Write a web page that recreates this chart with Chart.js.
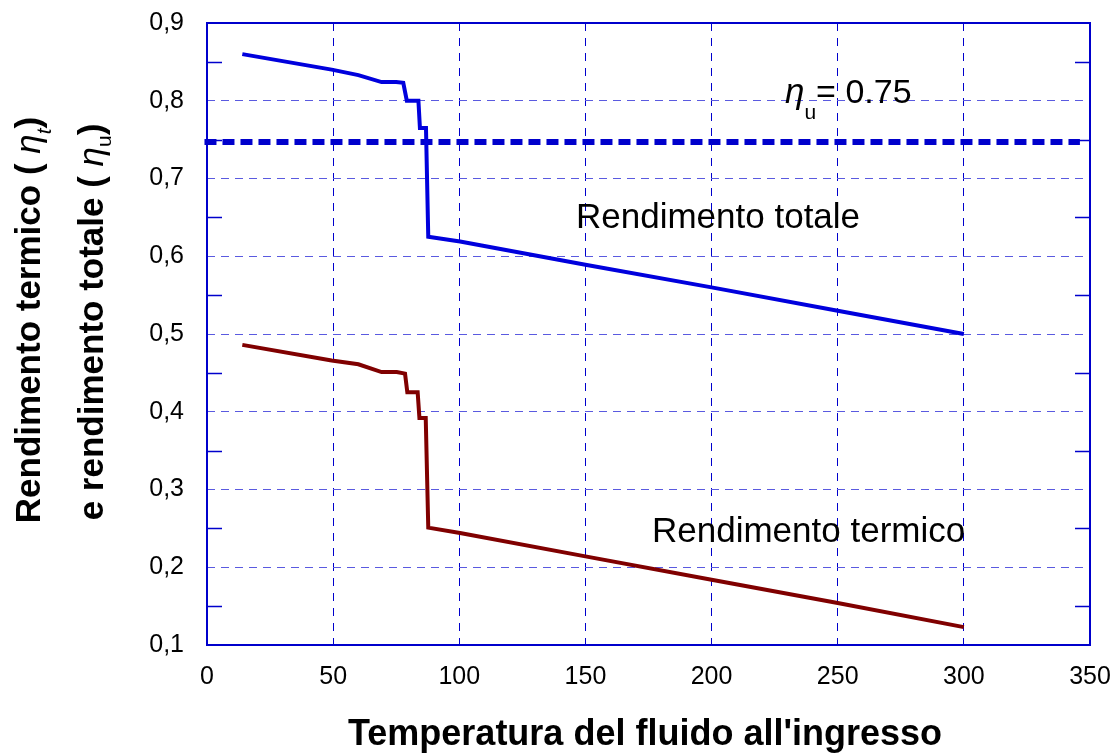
<!DOCTYPE html>
<html>
<head>
<meta charset="utf-8">
<script src="https://cdn.jsdelivr.net/npm/chart.js@4.4.1/dist/chart.umd.min.js"></script>
<style>
  html, body { margin: 0; padding: 0; background: #fff; }
  #wrap { width: 1110px; height: 754px; }
</style>
</head>
<body>
<div id="wrap"><canvas id="myChart" width="1110" height="754"></canvas></div>
<script>
// temperature of the fluid at the inlet (x) and efficiencies
const tempTotale = [14, 49.4, 60, 69.2, 75, 77.8, 79.2, 83.8, 84.4, 86.8, 87.7, 100.3, 150, 200, 250, 300];
const rendTotale = [0.860, 0.840, 0.833, 0.824, 0.824, 0.823, 0.800, 0.800, 0.765, 0.765, 0.625, 0.619, 0.589, 0.560, 0.530, 0.500];

const tempTermico = [14, 49.4, 60, 69.2, 75.2, 78.5, 79.4, 83.5, 84.2, 86.7, 87.7, 100.3, 150, 200, 250, 300];
const rendTermico = [0.486, 0.466, 0.461, 0.451, 0.451, 0.449, 0.425, 0.425, 0.392, 0.392, 0.251, 0.244, 0.214, 0.184, 0.154, 0.123];

const tempRiferimento = [-1, 346];
const rendRiferimento = [0.747, 0.747];

const xTicks = [0, 50, 100, 150, 200, 250, 300, 350];
const yTicks = [0.1, 0.2, 0.3, 0.4, 0.5, 0.6, 0.7, 0.8, 0.9];

const FONT = '"Liberation Sans", Arial, sans-serif';
Chart.defaults.font.family = FONT;

function toPoints(xs, ys) {
  return xs.map((x, i) => ({ x: x, y: ys[i] }));
}

// draw a row of text pieces (for the subscripts)
function drawRuns(ctx, runs, x, y, align) {
  let total = 0;
  runs.forEach(r => { ctx.font = r.f; total += ctx.measureText(r.t).width; });
  let cx = align === 'center' ? x - total / 2 : x;
  runs.forEach(r => {
    ctx.font = r.f;
    ctx.fillText(r.t, cx, y + (r.dy || 0));
    cx += ctx.measureText(r.t).width;
  });
}

const decorations = {
  id: 'decorations',
  afterDraw(chart) {
    const ctx = chart.ctx;
    const a = chart.chartArea;
    const ys = chart.scales.y;

    ctx.save();
    // frame
    ctx.strokeStyle = '#0000cc';
    ctx.lineWidth = 2;
    ctx.strokeRect(a.left, a.top, a.right - a.left, a.bottom - a.top);

    // minor ticks on left and right
    ctx.lineWidth = 1.5;
    for (let v = 0.15; v < 0.9; v += 0.1) {
      const py = Math.round(ys.getPixelForValue(v)) + 0.5;
      ctx.beginPath();
      ctx.moveTo(a.left, py); ctx.lineTo(a.left + 15, py);
      ctx.moveTo(a.right, py); ctx.lineTo(a.right - 15, py);
      ctx.stroke();
    }

    ctx.fillStyle = '#000';
    ctx.textBaseline = 'alphabetic';
    ctx.textAlign = 'left';

    ctx.font = '35px ' + FONT;
    ctx.fillText('Rendimento totale', 576, 228);
    ctx.fillText('Rendimento termico', 652, 542);

    drawRuns(ctx, [
      { t: '\u03b7', f: 'italic 35px ' + FONT },
      { t: 'u', f: '21px ' + FONT, dy: 16 },
      { t: '= 0.75', f: '34px ' + FONT }
    ], 785, 103, 'left');

    // x axis title
    ctx.font = 'bold 36px ' + FONT;
    ctx.textAlign = 'center';
    ctx.fillText("Temperatura del fluido all'ingresso", 645, 745);
    ctx.textAlign = 'left';

    // y axis title, two rotated lines
    ctx.save();
    ctx.translate(40, 320);
    ctx.rotate(-Math.PI / 2);
    drawRuns(ctx, [
      { t: 'Rendimento termico ( ', f: 'bold 35px ' + FONT },
      { t: '\u03b7', f: 'italic 35px ' + FONT },
      { t: 't', f: 'italic 21px ' + FONT, dy: 11 },
      { t: ')', f: 'bold 35px ' + FONT }
    ], 0, 0, 'center');
    ctx.restore();

    ctx.save();
    ctx.translate(103, 322);
    ctx.rotate(-Math.PI / 2);
    drawRuns(ctx, [
      { t: 'e rendimento totale ( ', f: 'bold 35px ' + FONT },
      { t: '\u03b7', f: 'italic 35px ' + FONT },
      { t: 'u', f: '21px ' + FONT, dy: 8 },
      { t: ')', f: 'bold 35px ' + FONT }
    ], 0, 0, 'center');
    ctx.restore();

    ctx.restore();
  }
};

const config = {
  type: 'line',
  data: {
    datasets: [
      {
        label: 'Rendimento totale',
        data: toPoints(tempTotale, rendTotale),
        borderColor: '#0000dd',
        borderWidth: 4,
        pointRadius: 0,
        tension: 0
      },
      {
        label: 'Rendimento termico',
        data: toPoints(tempTermico, rendTermico),
        borderColor: '#800000',
        borderWidth: 4,
        pointRadius: 0,
        tension: 0
      },
      {
        label: 'eta_u = 0.75',
        data: toPoints(tempRiferimento, rendRiferimento),
        borderColor: '#0000cc',
        borderWidth: 6,
        borderDash: [12, 6],
        borderCapStyle: 'butt',
        pointRadius: 0,
        tension: 0,
        clip: 4
      }
    ]
  },
  options: {
    responsive: false,
    animation: false,
    layout: { padding: { top: 23, right: 20, left: 0, bottom: 0 } },
    plugins: {
      legend: { display: false },
      tooltip: { enabled: false }
    },
    scales: {
      x: {
        type: 'linear',
        min: 0,
        max: 350,
        afterFit: s => { s.height = 109; s.paddingLeft = 0; s.paddingRight = 0; },
        afterBuildTicks: s => { s.ticks = xTicks.map(v => ({ value: v })); },
        grid: {
          color: '#0000cc',
          lineWidth: 1,
          drawTicks: false
        },
        border: { display: false, dash: [8, 7] },
        ticks: {
          color: '#000',
          font: { size: 25 },
          padding: 17,
          maxRotation: 0,
          autoSkip: false
        }
      },
      y: {
        min: 0.1,
        max: 0.9,
        afterFit: s => { s.width = 207; s.paddingTop = 0; s.paddingBottom = 0; },
        afterBuildTicks: s => { s.ticks = yTicks.map(v => ({ value: v })); },
        grid: {
          color: '#5a5ae0',
          lineWidth: 1,
          drawTicks: false
        },
        border: { display: false, dash: [8, 6] },
        ticks: {
          color: '#000',
          font: { size: 25 },
          padding: 23,
          callback: v => v.toFixed(1).replace('.', ',')
        }
      }
    }
  },
  plugins: [decorations]
};

const ctx = document.getElementById('myChart');
const myChart = new Chart(ctx, config);
</script>
</body>
</html>
